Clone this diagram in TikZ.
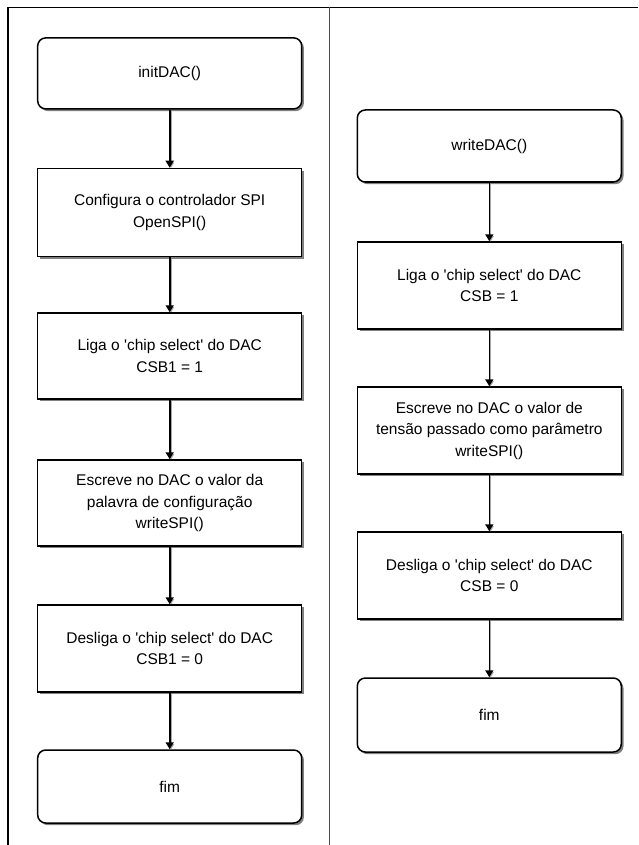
\documentclass[tikz,border=0pt]{standalone}
\usepackage{fontspec}
\setmainfont{Liberation Sans}
\usetikzlibrary{arrows.meta,shadows}
\newcommand{\q}{\textquotesingle}
\tikzset{
  box/.style={draw=black, line width=1.5pt, fill=white, align=center,
    inner sep=2pt, minimum width=264pt,
    font=\fontsize{15.5}{21.5}\selectfont,
    drop shadow={shadow xshift=2.2pt, shadow yshift=-2.2pt, fill=black!50, opacity=1}},
  procbox/.style={box, minimum height=87pt},
  termbox/.style={box, rounded corners=8pt, minimum height=72pt},
  arr/.style={line width=1.6pt, -{Triangle[length=7pt,width=8pt]},
    preaction={draw=black!35, transform canvas={shift={(1.3pt,-1.3pt)}}}},
  frame/.style={line width=1.3pt, draw=black},
  divider/.style={line width=1pt, draw=black!70}
}
\begin{document}
\begin{tikzpicture}[x=1pt,y=-1pt]
\useasboundingbox (0,0) rectangle (638,845);
\fill[white] (0,0) rectangle (638,845);
% frame
\coordinate (tl) at (8,7.5);
\coordinate (tr) at (638,7.5);
\coordinate (bl) at (8,845);
\coordinate (mt) at (329,7.5);
\coordinate (mb) at (329,845);
\draw[frame] (bl) -- (tl) -- (tr);
\draw[divider] (mt) -- (mb);

% left column
\node[termbox, minimum height=71pt] (a1) at (169.7,73.4) {initDAC()};
\node[procbox, minimum height=88pt] (a2) at (169.7,212.5) {Configura o controlador SPI\\OpenSPI()};
\node[procbox, minimum height=86pt] (a3) at (169.7,356) {Liga o \q chip select\q\ do DAC\\CSB1 = 1};
\node[procbox, minimum height=86pt] (a4) at (169.7,503) {Escreve no DAC o valor da\\palavra de configuração\\writeSPI()};
\node[procbox] (a5) at (169.7,648.5) {Desliga o \q chip select\q\ do DAC\\CSB1 = 0};
\node[termbox, minimum height=73pt] (a6) at (169.7,786.5) {fim};

% right column
\node[termbox] (b1) at (489.3,146) {writeDAC()};
\node[procbox] (b2) at (489.3,285.5) {Liga o \q chip select\q\ do DAC\\CSB = 1};
\node[procbox] (b3) at (489.3,430.5) {Escreve no DAC o valor de\\tensão passado como parâmetro\\writeSPI()};
\node[procbox] (b4) at (489.3,575.5) {Desliga o \q chip select\q\ do DAC\\CSB = 0};
\node[termbox, minimum height=74pt] (b5) at (489.3,715) {fim};

\foreach \s/\t in {a1/a2,a2/a3,a3/a4,a4/a5,a5/a6,b1/b2,b2/b3,b3/b4,b4/b5}
  \draw[arr] (\s.south) -- (\t.north);
\end{tikzpicture}
\end{document}
